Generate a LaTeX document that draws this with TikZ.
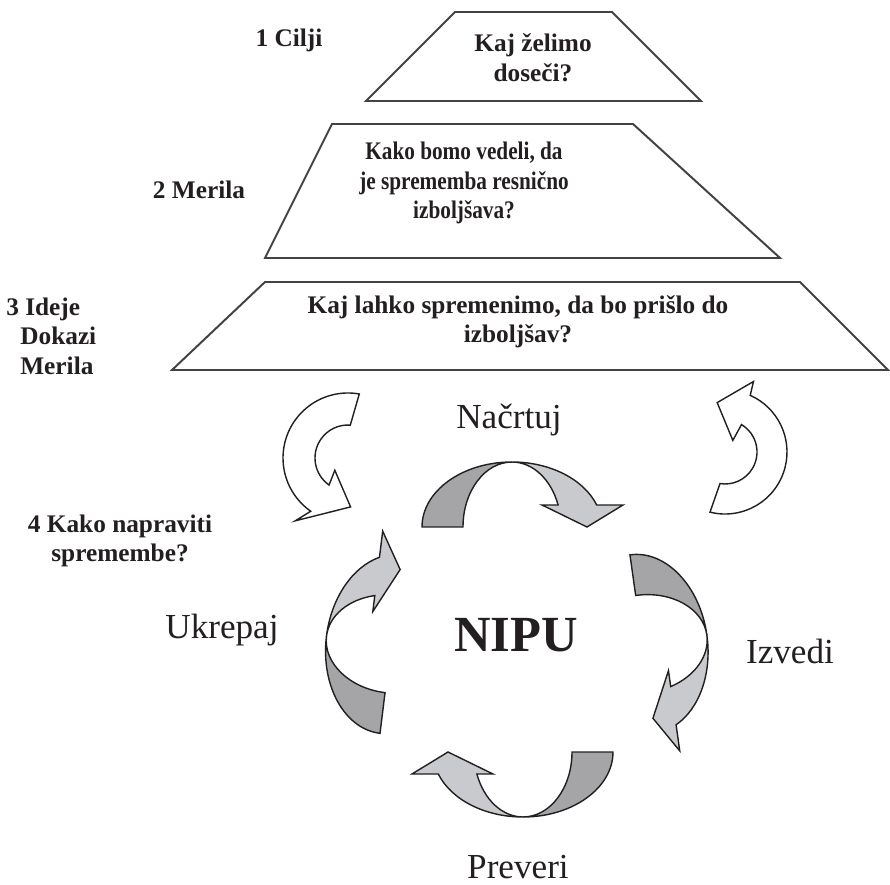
\documentclass[tikz,border=0pt]{standalone}
\usepackage{fontspec}
\setmainfont{Liberation Serif}
\usetikzlibrary{positioning}
\definecolor{darkrib}{RGB}{165,165,168}
\definecolor{lightrib}{RGB}{201,202,205}
\definecolor{ink}{RGB}{35,31,32}

\begin{document}
\begin{tikzpicture}[
    x=0.025cm, y=0.025cm,
    level/.style={draw=ink!85, line width=1.4pt, line join=miter},
    question/.style={font=\fontsize{18}{21}\bfseries\selectfont, text=ink, align=center, inner sep=0pt},
    stage/.style={font=\fontsize{18}{21}\bfseries\selectfont, text=ink, align=left, inner sep=0pt},
    phase/.style={font=\fontsize{25}{30}\selectfont, text=ink, inner sep=0pt},
    turn/.style={draw=ink, line width=1pt, fill=white, line join=miter},
    rib/.style={draw=ink, line width=1pt, line join=miter},
    cyclearrow/.pic={
        \path[rib, fill=darkrib] (-90,0) arc[start angle=180, end angle=90, x radius=90, y radius=65]
            arc[start angle=90, end angle=180, x radius=49, y radius=65] -- cycle;
        \path[rib, fill=lightrib] (0,65) arc[start angle=90, end angle=19.8, x radius=90, y radius=65]
            -- (111,22) -- (75,0) -- (30,22) -- (46.1,22)
            arc[start angle=19.8, end angle=90, x radius=49, y radius=65] -- cycle;
    }
]
\useasboundingbox (0,0) rectangle (890,884);

% Pyramid levels
\draw[level] (455,872) -- (612,872) -- (701,783) -- (366,783) -- cycle;
\node[question] (goal) at (533,826) {Kaj želimo\\doseči?};
\node[stage] (cilji) at (289,844) {1 Cilji};

\draw[level] (332,760) -- (633,760) -- (780,626) -- (265,626) -- cycle;
\node[question, xscale=0.84] (measure) at (464,701) {Kako bomo vedeli, da\\je sprememba resnično\\izboljšava?};
\node[stage] (merila) at (199,694) {2 Merila};

\draw[level] (265,602) -- (800,602) -- (888,514) -- (172,514) -- cycle;
\node[question] (change) at (518,562) {Kaj lahko spremenimo, da bo prišlo do\\izboljšav?};
\node[stage, anchor=west] (ideje) at (6,548) {3 Ideje\\\hspace{10pt}Dokazi\\\hspace{10pt}Merila};

\node[question] (howto) at (120,343) {4 Kako napraviti\\spremembe?};

% White turning arrows
\begin{scope}[shift={(348,426)}]
\draw[turn] (80:65) arc[start angle=80, end angle=235, radius=65] -- (230:82) -- (273:49)
    -- (223:18) -- (235:33) arc[start angle=235, end angle=86, radius=33] -- cycle;
\end{scope}
\begin{scope}[shift={(725,432)}]
\draw[turn] (-104:62) arc[start angle=-104, end angle=66, radius=62] -- (68:76) -- (99:50)
    -- (56:14) -- (59:32) arc[start angle=59, end angle=-99, radius=32] -- cycle;
\end{scope}

% PDCA cycle
\pic[rotate=0] at (512,357) {cyclearrow};
\pic[rotate=-82] at (642.5,240) {cyclearrow};
\pic[rotate=180] at (523,132) {cyclearrow};
\pic[rotate=83] at (391,240) {cyclearrow};

\node[phase] (plan) at (509,464) {Načrtuj};
\node[phase] (do) at (790,233) {Izvedi};
\node[phase] (check) at (518,17) {Preveri};
\node[phase] (act) at (222,254) {Ukrepaj};
\node[font=\fontsize{36}{40}\bfseries\selectfont, text=ink, inner sep=0pt] (nipu) at (516,249) {NIPU};

\end{tikzpicture}
\end{document}
